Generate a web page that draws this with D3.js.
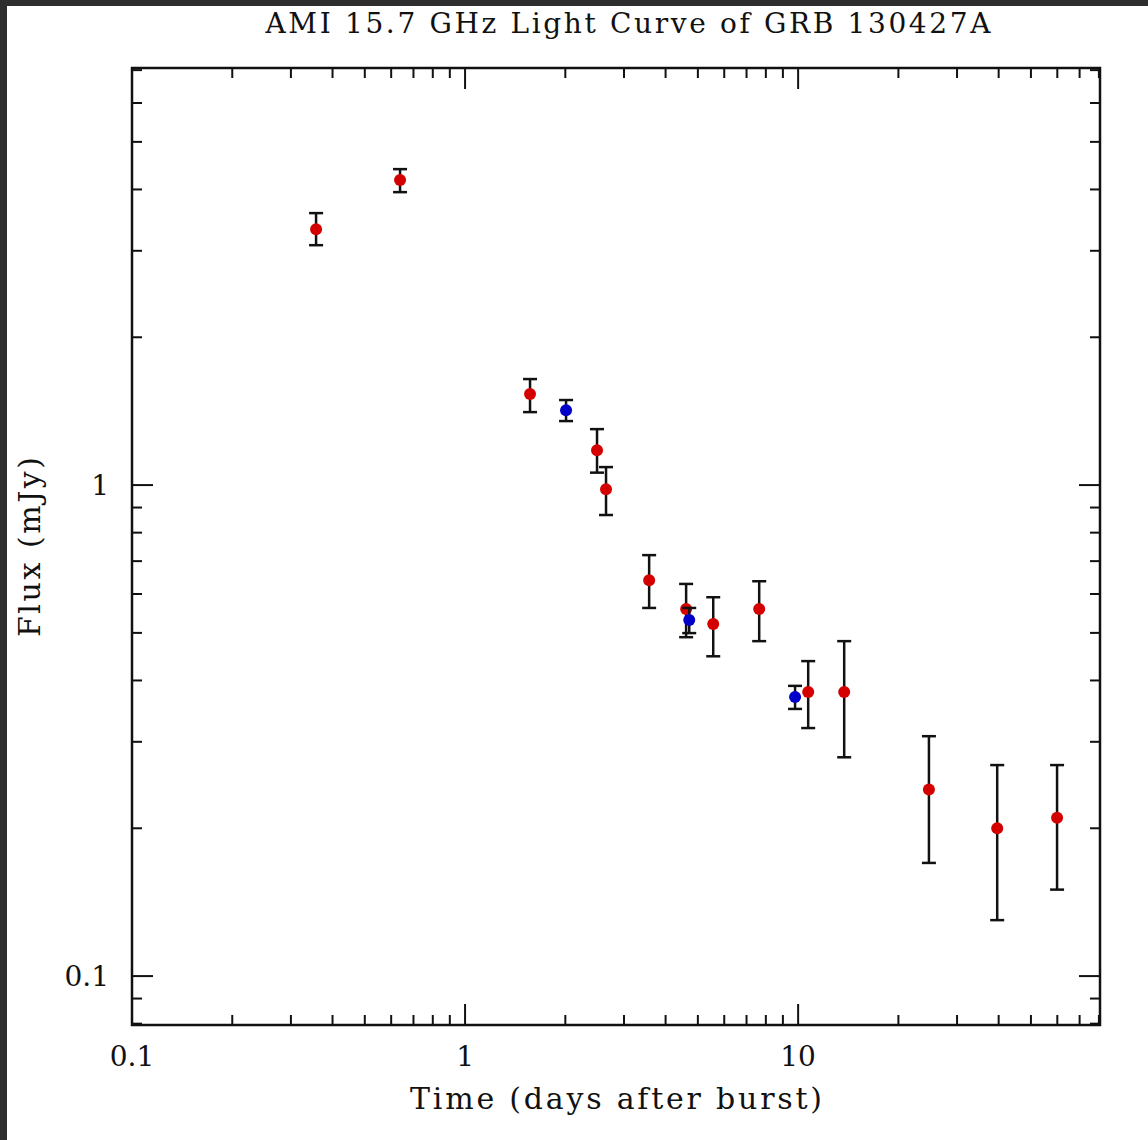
<!DOCTYPE html>
<html>
<head>
<meta charset="utf-8">
<script src="https://cdn.jsdelivr.net/npm/d3@7"></script>
<style>
  html, body { margin: 0; padding: 0; background: #2e2e2e; }
  #chart { position: absolute; left: 7px; top: 6px; }
  text { font-family: "DejaVu Serif", serif; fill: #111; }
</style>
</head>
<body>
<div id="chart"></div>
<script>
// Red points (AMI observations)
var redTime = [0.357, 0.638, 1.567, 2.49, 2.65, 3.57, 4.61, 5.56, 7.64, 10.72, 13.75, 24.7, 39.6, 59.9];
var redFlux = [3.32, 4.18, 1.532, 1.178, 0.981, 0.640, 0.559, 0.521, 0.559, 0.379, 0.379, 0.240, 0.200, 0.210];
var redLow  = [3.08, 3.95, 1.408, 1.060, 0.869, 0.562, 0.490, 0.448, 0.481, 0.320, 0.279, 0.170, 0.130, 0.150];
var redHigh = [3.58, 4.40, 1.644, 1.300, 1.088, 0.720, 0.629, 0.591, 0.637, 0.438, 0.481, 0.308, 0.269, 0.269];

// Blue points
var blueTime = [2.01, 4.71, 9.79];
var blueFlux = [1.421, 0.531, 0.370];
var blueLow  = [1.350, 0.4995, 0.350];
var blueHigh = [1.490, 0.562, 0.390];

// Axis ticks
var xMajor = [0.1, 1, 10];
var xMinor = [0.2, 0.3, 0.4, 0.5, 0.6, 0.7, 0.8, 0.9, 2, 3, 4, 5, 6, 7, 8, 9, 20, 30, 40, 50, 60, 70, 80];
var yMajor = [0.1, 1];
var yMinor = [0.08, 0.09, 0.2, 0.3, 0.4, 0.5, 0.6, 0.7, 0.8, 0.9, 2, 3, 4, 5, 6, 7];
var xLabels = ["0.1", "1", "10"];
var yLabels = ["0.1", "1"];

function drawChart() {
  var W = 1141, H = 1134;
  var svg = d3.select("#chart").append("svg")
    .attr("width", W).attr("height", H)
    .style("background", "#fff");

  // frame edges (svg coords, page minus the dark border)
  var x0 = 125, x1 = 1093, y0 = 62, y1 = 1019;

  var x = d3.scaleLog().domain([0.1, 80.6]).range([x0, x1]);
  var y = d3.scaleLog().domain([0.0795, 7.07]).range([y1, y0]);

  var ink = "#111";

  // ticks on all four sides, pointing inward
  function xTicks(vals, len) {
    vals.forEach(function(v) {
      svg.append("line").attr("x1", x(v)).attr("x2", x(v))
        .attr("y1", y1).attr("y2", y1 - len)
        .attr("stroke", ink).attr("stroke-width", 2);
      svg.append("line").attr("x1", x(v)).attr("x2", x(v))
        .attr("y1", y0).attr("y2", y0 + len)
        .attr("stroke", ink).attr("stroke-width", 2);
    });
  }
  function yTicks(vals, len) {
    vals.forEach(function(v) {
      svg.append("line").attr("y1", y(v)).attr("y2", y(v))
        .attr("x1", x0).attr("x2", x0 + len)
        .attr("stroke", ink).attr("stroke-width", 2);
      svg.append("line").attr("y1", y(v)).attr("y2", y(v))
        .attr("x1", x1).attr("x2", x1 - len)
        .attr("stroke", ink).attr("stroke-width", 2);
    });
  }
  xTicks(xMajor, 21);
  xTicks(xMinor, 10);
  yTicks(yMajor, 21);
  yTicks(yMinor, 10);

  svg.append("rect")
    .attr("x", x0).attr("y", y0)
    .attr("width", x1 - x0).attr("height", y1 - y0)
    .attr("fill", "none").attr("stroke", ink).attr("stroke-width", 2.5);

  // tick labels
  svg.selectAll(".xlab").data(xMajor).enter().append("text")
    .attr("class", "xlab")
    .attr("x", function(d) { return x(d); })
    .attr("y", y1 + 41)
    .attr("text-anchor", "middle")
    .style("font-size", "28px")
    .text(function(d, i) { return xLabels[i]; });

  svg.selectAll(".ylab").data(yMajor).enter().append("text")
    .attr("class", "ylab")
    .attr("x", x0 - 23)
    .attr("y", function(d) { return y(d) + 10; })
    .attr("text-anchor", "end")
    .style("font-size", "28px")
    .text(function(d, i) { return yLabels[i]; });

  // titles
  svg.append("text")
    .attr("x", 621).attr("y", 27)
    .attr("text-anchor", "middle")
    .attr("textLength", 725).attr("lengthAdjust", "spacing")
    .style("font-size", "28px")
    .text("AMI 15.7 GHz Light Curve of GRB 130427A");

  svg.append("text")
    .attr("x", 609).attr("y", 1103)
    .attr("text-anchor", "middle")
    .attr("textLength", 412).attr("lengthAdjust", "spacing")
    .style("font-size", "30px")
    .text("Time (days after burst)");

  svg.append("text")
    .attr("transform", "translate(33,541) rotate(-90)")
    .attr("text-anchor", "middle")
    .attr("textLength", 180).attr("lengthAdjust", "spacing")
    .style("font-size", "30px")
    .text("Flux (mJy)");

  // error bars and points
  function drawSeries(times, flux, lo, hi, color) {
    var data = times.map(function(t, i) {
      return { t: t, f: flux[i], lo: lo[i], hi: hi[i] };
    });
    var g = svg.append("g");
    data.forEach(function(d) {
      var cx = x(d.t);
      g.append("line").attr("x1", cx).attr("x2", cx)
        .attr("y1", y(d.lo)).attr("y2", y(d.hi))
        .attr("stroke", ink).attr("stroke-width", 2.5);
      [d.lo, d.hi].forEach(function(v) {
        g.append("line").attr("x1", cx - 7).attr("x2", cx + 7)
          .attr("y1", y(v)).attr("y2", y(v))
          .attr("stroke", ink).attr("stroke-width", 2.5);
      });
    });
    g.selectAll("circle").data(data).enter().append("circle")
      .attr("cx", function(d) { return x(d.t); })
      .attr("cy", function(d) { return y(d.f); })
      .attr("r", 6)
      .attr("fill", color);
  }
  drawSeries(redTime, redFlux, redLow, redHigh, "#d40000");
  drawSeries(blueTime, blueFlux, blueLow, blueHigh, "#0000c8");
}

drawChart();
</script>
</body>
</html>
